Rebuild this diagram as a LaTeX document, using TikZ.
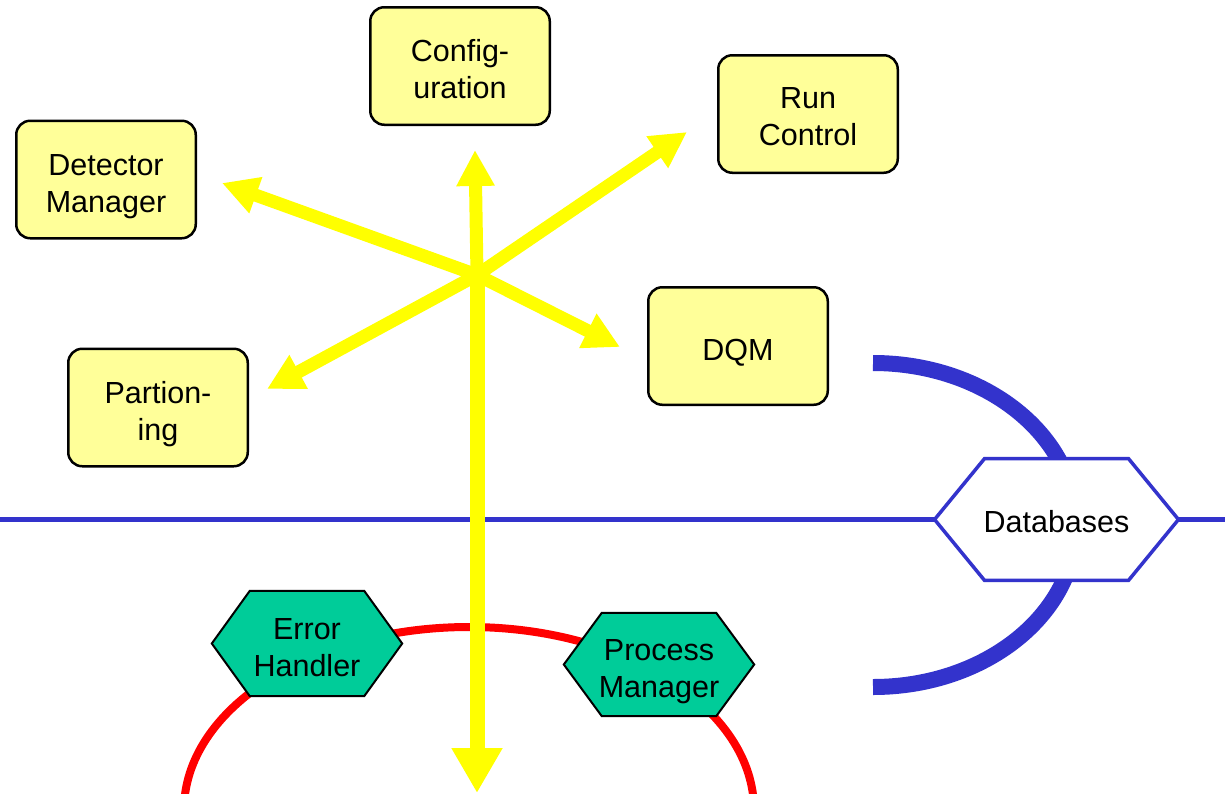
\documentclass[tikz,border=0pt]{standalone}
\usepackage{fontspec}
\setmainfont{Liberation Sans}
\usetikzlibrary{arrows.meta}
\definecolor{boxyellow}{HTML}{FFFF99}
\definecolor{arrowyellow}{HTML}{FFFF00}
\definecolor{dbblue}{HTML}{3333CC}
\definecolor{procgreen}{HTML}{00CC99}
\definecolor{ringred}{HTML}{FF0000}

% hexagon outline through the corners of a named node: node, slant, style
\newcommand\hexpath[3]{%
  \path[#3] (#1.west) -- ([xshift=#2]#1.north west) -- ([xshift=-#2]#1.north east)
    -- (#1.east) -- ([xshift=-#2]#1.south east) -- ([xshift=#2]#1.south west) -- cycle;}

\begin{document}
\begin{tikzpicture}[x=1pt, y=-1pt,
  ybox/.style={draw=black, line width=2.5pt, fill=boxyellow, rounded corners=14pt,
    minimum width=179.5pt, minimum height=117.5pt, inner sep=0pt},
  txt/.style={font=\fontsize{30.5}{37}\selectfont, align=center, text depth=0pt, inner sep=0pt},
  hexgeom/.style 2 args={minimum width=#1, minimum height=#2, inner sep=0pt},
  greenface/.style={draw=black, line width=2pt, fill=procgreen},
  dbface/.style={draw=dbblue, line width=3.5pt, fill=white},
  yarrow/.style={draw=arrowyellow, line width=13pt},
  smallhead/.style={-{Triangle[length=36pt,width=36pt]}},
  bighead/.style={-{Triangle[length=45pt,width=48pt]}},
]
\useasboundingbox (0,0) rectangle (1225,793);
\clip (0,0) rectangle (1225,793);
\fill[white] (0,0) rectangle (1225,793);

% red ring of the local processes
\coordinate (ringstart) at (184,810);
\draw[ringred, line width=8pt] (ringstart) arc[start angle=180, end angle=360, x radius=285, y radius=183];

% thick blue arc and bus line of the databases
\coordinate (dbarc) at (873,363);
\draw[dbblue, line width=16pt] (dbarc) arc[start angle=-90, end angle=90, x radius=203, y radius=162];
\coordinate (busW) at (0,519.5);
\coordinate (busE) at (1225,519.5);
\draw[dbblue, line width=5pt] (busW) -- (busE);

% databases hexagon
\node[hexgeom={243.5pt}{121.5pt}] (db) at (1056.5,519.5) {};
\hexpath{db}{50pt}{dbface}
\node[txt] (dbtext) at ([yshift=-1.5pt]db.center) {Databases};

% green process hexagons
\node[hexgeom={190pt}{105pt}] (err) at (307,643.5) {};
\hexpath{err}{38pt}{greenface}
\node[txt] (errtext) at ([yshift=-3.5pt]err.center) {Error\\Handler};

\node[hexgeom={190pt}{103pt}] (pm) at (659,664.5) {};
\hexpath{pm}{38pt}{greenface}
\node[txt] (pmtext) at ([yshift=-3.5pt]pm.center) {Process\\Manager};

% yellow component boxes
\node[ybox] (det) at (106,179.5) {};
\node[txt] (dettext) at ([yshift=-4pt]det.center) {Detector\\Manager};
\node[ybox] (conf) at (460,66) {};
\node[txt] (conftext) at ([yshift=-3pt]conf.center) {Config-\\uration};
\node[ybox] (run) at (808,114) {};
\node[txt] (runtext) at ([yshift=-3pt]run.center) {Run\\Control};
\node[ybox] (dqm) at (738,346) {};
\node[txt] (dqmtext) at ([yshift=-4pt]dqm.center) {DQM};
\node[ybox] (part) at (158,407.5) {};
\node[txt] (parttext) at ([yshift=-3.5pt]part.center) {Partion-\\ing};

% yellow arrows from the hub
\coordinate (hub) at (477,275);
\coordinate (upTip) at (475,150);
\coordinate (downTip) at (477,793);
\coordinate (detTip) at (222,183);
\coordinate (runTip) at (687,132);
\coordinate (dqmTip) at (620,347);
\coordinate (partTip) at (267,389);
\draw[yarrow, smallhead] (hub) -- (upTip);
\draw[yarrow, line width=15pt, bighead] (hub) -- (downTip);
\draw[yarrow, smallhead] (hub) -- (detTip);
\draw[yarrow, smallhead] (hub) -- (runTip);
\draw[yarrow, smallhead] (hub) -- (dqmTip);
\draw[yarrow, smallhead] (hub) -- (partTip);
\end{tikzpicture}
\end{document}
